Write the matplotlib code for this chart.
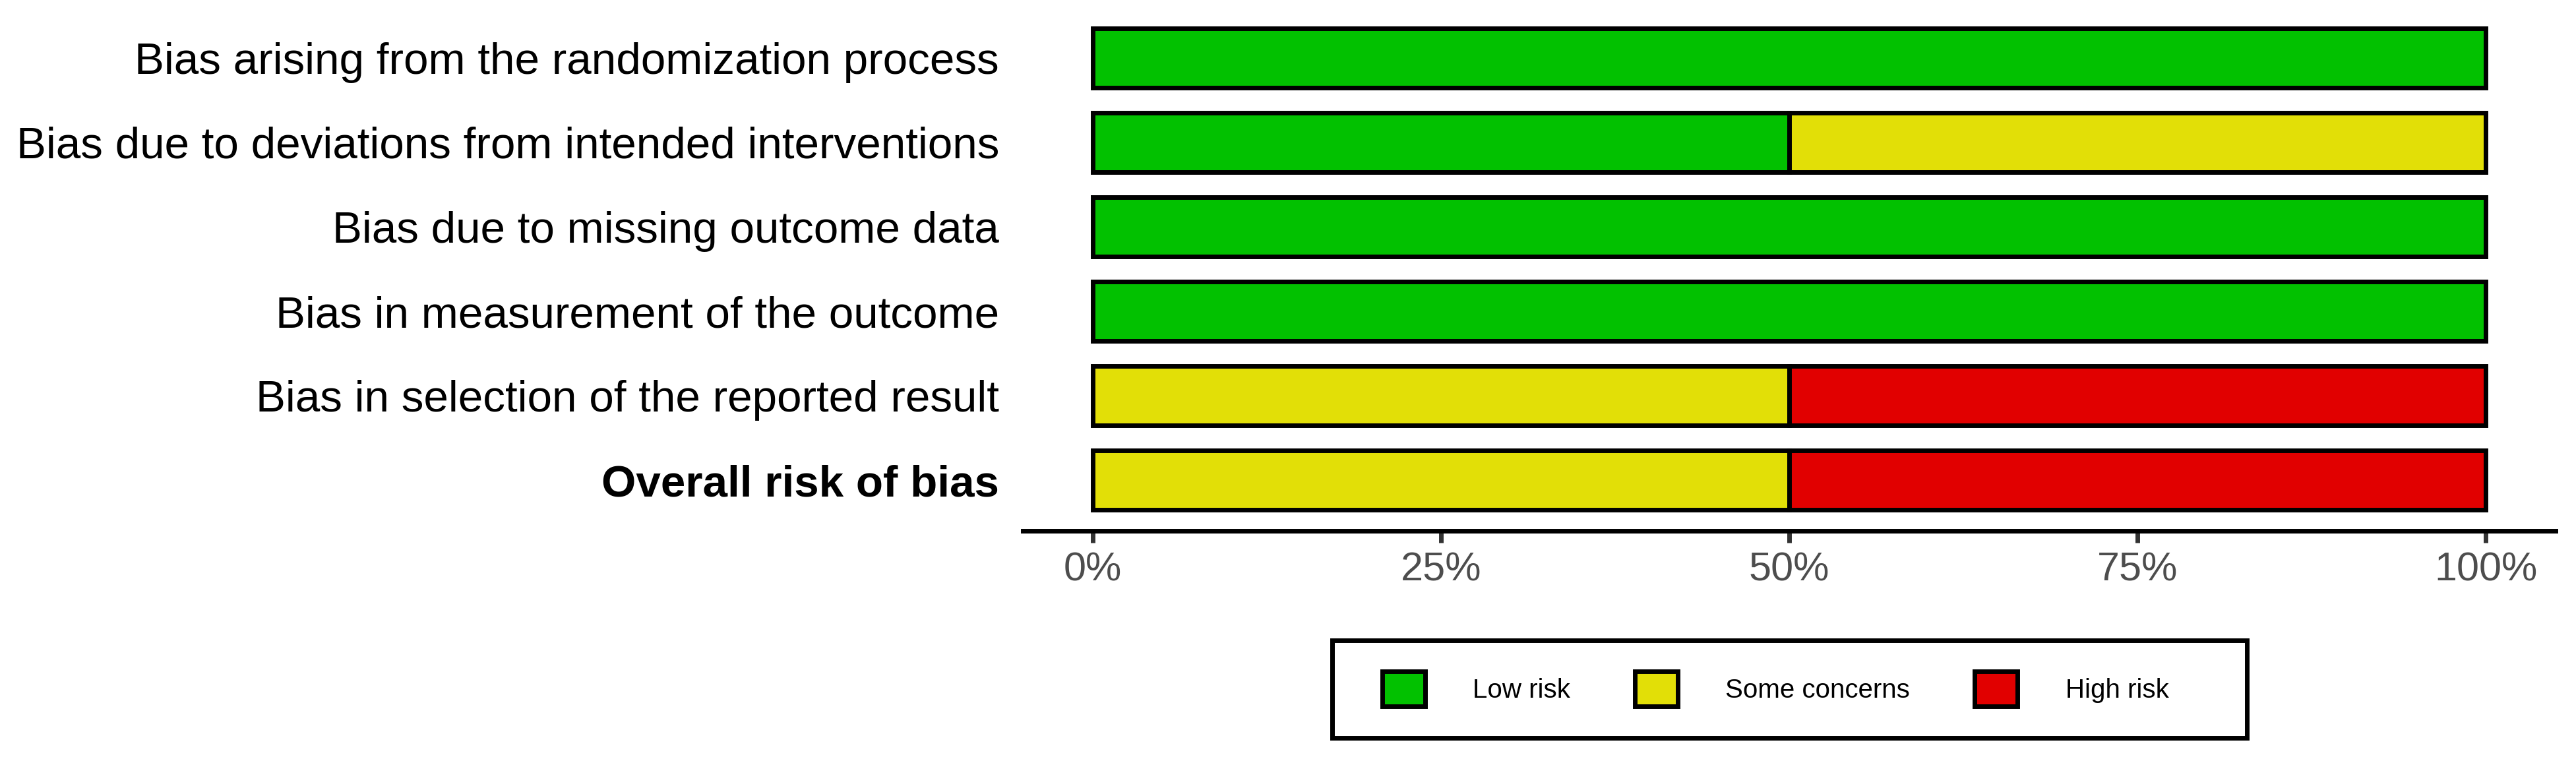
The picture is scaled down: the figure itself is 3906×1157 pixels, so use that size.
import matplotlib.pyplot as plt
import numpy as np
from matplotlib.patches import Patch, Rectangle

plt.rcParams["font.family"] = ["Liberation Sans", "DejaVu Sans"]

domains = [
    "Bias arising from the randomization process",
    "Bias due to deviations from intended interventions",
    "Bias due to missing outcome data",
    "Bias in measurement of the outcome",
    "Bias in selection of the reported result",
    "Overall risk of bias",
]
low_risk = [1.0, 0.5, 1.0, 1.0, 0.0, 0.0]
some_concerns = [0.0, 0.5, 0.0, 0.0, 0.5, 0.5]
high_risk = [0.0, 0.0, 0.0, 0.0, 0.5, 0.5]

judgements = ["Low risk", "Some concerns", "High risk"]
colours = ["#02C100", "#E2DF07", "#E10000"]
tick_values = [0, 0.25, 0.5, 0.75, 1.0]
tick_labels = ["0%", "25%", "50%", "75%", "100%"]

W, H = 3906, 1157
fig = plt.figure(figsize=(W / 100, H / 100), dpi=100)
ax = fig.add_axes([1551 / W, (H - 805) / H, 2324 / W, 794 / H])

y = np.arange(len(domains))
left = np.zeros(len(domains))
for values, colour in zip([low_risk, some_concerns, high_risk], colours):
    values = np.array(values)
    keep = values > 0
    ax.barh(y[keep], values[keep], left=left[keep], height=0.7,
            color=colour, edgecolor="black", linewidth=5)
    left += values

ax.set_xlim(-0.05, 1.05)
ax.set_ylim(len(domains) - 0.4, -0.6)
ax.set_yticks(y)
ax.set_yticklabels(domains, fontsize=48.5, color="black")
ax.get_yticklabels()[-1].set_fontweight("bold")
ax.tick_params(axis="y", length=0, pad=26)
ax.set_xticks(tick_values)
ax.set_xticklabels(tick_labels, fontsize=44, color="#4D4D4D")
ax.tick_params(axis="x", length=13, width=5, color="#333333", pad=10)

for side in ["top", "right", "left"]:
    ax.spines[side].set_visible(False)
ax.spines["bottom"].set_linewidth(5)
ax.spines["bottom"].set_color("black")

handles = [Patch(facecolor=c, edgecolor="black", linewidth=5) for c in colours]
fig.legend(handles, judgements, loc="center", ncol=3,
           bbox_to_anchor=(2692 / W, (H - 1044.5) / H),
           bbox_transform=fig.transFigure, frameon=False, fontsize=29,
           handlelength=1.62, handleheight=1.62, handletextpad=1.8,
           columnspacing=2.42, borderpad=0)

# legend frame
fig.patches.append(Rectangle((2019.5 / W, (H - 1118.5) / H), 1387 / W, 148 / H,
                             transform=fig.transFigure, fill=False,
                             edgecolor="black", linewidth=5))

fig.savefig("out.png", dpi=100)
